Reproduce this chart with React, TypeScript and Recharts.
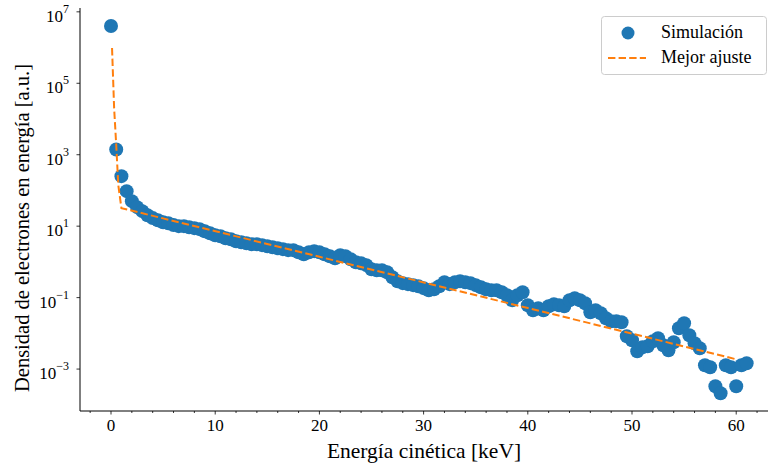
import React from "react"
import { ComposedChart, Scatter, XAxis, YAxis, Legend } from "recharts"

// energía cinética [keV] de cada punto simulado
const energia = [
  0, 0.5, 1, 1.5, 2, 2.5, 3, 3.5, 4, 4.5, 5, 5.5, 6, 6.5, 7, 7.5, 8, 8.5, 9, 9.5,
  10, 10.5, 11, 11.5, 12, 12.5, 13, 13.5, 14, 14.5, 15, 15.5, 16, 16.5, 17, 17.5, 18, 18.5, 19, 19.5,
  20, 20.5, 21, 21.5, 22, 22.5, 23, 23.5, 24, 24.5, 25, 25.5, 26, 26.5, 27, 27.5, 28, 28.5, 29, 29.5,
  30, 30.5, 31, 31.5, 32, 32.5, 33, 33.5, 34, 34.5, 35, 35.5, 36, 36.5, 37, 37.5, 38, 38.5, 39, 39.5,
  40, 40.5, 41, 41.5, 42, 42.5, 43, 43.5, 44, 44.5, 45, 45.5, 46, 46.5, 47, 47.5, 48, 48.5, 49, 49.5,
  50, 50.5, 51, 51.5, 52, 52.5, 53, 53.5, 54, 54.5, 55, 55.5, 56, 56.5, 57, 57.5, 58, 58.5, 59, 59.5,
  60, 60.5, 61,
]

const densidad = [
  4.0e6, 1.4e3, 251, 95.6, 50.2, 34.1, 26.3, 20.3, 16.8, 14.7, 12.9, 12.1, 10.7, 10.0, 10.0, 9.37, 8.79, 8.24, 7.24, 6.36,
  5.59, 5.24, 4.61, 4.32, 3.8, 3.56, 3.34, 3.13, 3.13, 2.94, 2.75, 2.58, 2.42, 2.27, 2.13, 2.13, 1.87, 1.64, 1.87, 2.0,
  1.87, 1.64, 1.44, 1.27, 1.54, 1.44, 1.19, 0.98, 0.92, 0.81, 0.625, 0.586, 0.586, 0.515, 0.373, 0.288, 0.254, 0.238, 0.223, 0.209,
  0.184, 0.161, 0.172, 0.209, 0.27, 0.238, 0.27, 0.288, 0.27, 0.254, 0.223, 0.196, 0.172, 0.161, 0.161, 0.142, 0.117, 0.0847, 0.117, 0.142,
  0.0614, 0.0445, 0.0506, 0.0445, 0.0575, 0.0655, 0.0614, 0.0575, 0.0847, 0.0964, 0.0847, 0.0698, 0.0391, 0.0445, 0.0366, 0.0265, 0.0218, 0.0218, 0.0205, 0.0083,
  0.0064, 0.00315, 0.00408, 0.00435, 0.006, 0.0073, 0.00464, 0.00336, 0.00564, 0.0139, 0.0192, 0.00885, 0.00528, 0.00383, 0.00128, 0.00112, 0.00033, 0.00021, 0.00128, 0.00112,
  0.00033, 0.00128, 0.00145,
]

// curva del mejor ajuste
const ajusteEnergia = [0.1, 0.3, 0.5, 0.7, 1, 20, 40, 60]
const ajusteDensidad = [9.7e5, 2.0e4, 1.9e3, 141, 32, 1.39, 0.0512, 0.00188]

const xTicks = [-2, 0, 2, 4, 6, 8, 10, 12, 14, 16, 18, 20, 22, 24, 26, 28, 30, 32, 34, 36, 38, 40, 42, 44, 46, 48, 50, 52, 54, 56, 58, 60, 62]
const xLabels = [0, 10, 20, 30, 40, 50, 60]
const yTicks = [1e-3, 1e-1, 1e1, 1e3, 1e5, 1e7]

const puntos = energia.map((x, i) => ({ x, y: densidad[i] }))
const ajuste = ajusteEnergia.map((x, i) => ({ x, y: ajusteDensidad[i] }))

const AZUL = "#1f77b4"
const NARANJA = "#ff7f0e"

const XTick = (props: any) => {
  const { x, y, payload } = props
  const major = xLabels.includes(payload.value)
  return (
    <g>
      <line x1={x} x2={x} y1={y} y2={y + (major ? 3.5 : 2)} stroke="#000" strokeWidth={0.8} />
      {major && (
        <text x={x} y={y + 20} textAnchor="middle" fontSize={17} fill="#000">
          {payload.value}
        </text>
      )}
    </g>
  )
}

const YTick = (props: any) => {
  const { x, y, payload } = props
  const exp = String(Math.round(Math.log10(payload.value))).replace("-", "\u2212")
  return (
    <g>
      <line x1={x - 3.5} x2={x} y1={y} y2={y} stroke="#000" strokeWidth={0.8} />
      <text x={x - 11} y={y + 10} textAnchor="end" fontSize={17} fill="#000">
        10
        <tspan dy={-9} fontSize={12}>
          {exp}
        </tspan>
      </text>
    </g>
  )
}

const LegendBox = () => (
  <svg width={166} height={59}>
    <rect x={0.5} y={0.5} width={165} height={58} rx={3} fill="rgba(255,255,255,0.8)" stroke="#cccccc" />
    <circle cx={27} cy={17} r={6.5} fill={AZUL} />
    <text x={60} y={22} fontSize={18} fill="#000">Simulación</text>
    <line x1={7} x2={45} y1={42} y2={42} stroke={NARANJA} strokeWidth={2} strokeDasharray="7.4 3.2" />
    <text x={60} y={47} fontSize={18} fill="#000">Mejor ajuste</text>
  </svg>
)

export default function App() {
  return (
    <div
      style={{
        position: "absolute",
        left: 0,
        top: 0,
        width: 769,
        height: 468,
        background: "#fff",
        fontFamily: "'Liberation Serif', serif",
      }}
    >
      <ComposedChart width={769} height={468} margin={{ top: 8, right: 1, bottom: 0, left: 0 }}>
        <XAxis
          dataKey="x"
          type="number"
          domain={[-2.975, 63.05]}
          ticks={xTicks}
          interval={0}
          allowDataOverflow
          height={57}
          tickSize={0}
          tickMargin={0}
          tickLine={false}
          tick={<XTick />}
          stroke="#000"
          label={{
            content: () => (
              <text x={424} y={458} textAnchor="middle" fontSize={21.5} fill="#000">
                Energía cinética [keV]
              </text>
            ),
          }}
        />
        <XAxis
          xAxisId="top"
          orientation="top"
          type="number"
          domain={[0, 1]}
          height={0}
          tick={false}
          tickLine={false}
          stroke="#000"
        />
        <YAxis
          dataKey="y"
          scale="log"
          domain={[6.7e-5, 1.28e7]}
          ticks={yTicks}
          interval={0}
          allowDataOverflow
          width={80}
          tickSize={0}
          tickMargin={0}
          tickLine={false}
          tick={<YTick />}
          stroke="#000"
          label={{
            content: () => (
              <text transform="translate(29,228) rotate(-90)" textAnchor="middle" fontSize={20.5} fill="#000">
                Densidad de electrones en energía [a.u.]
              </text>
            ),
          }}
        />
        <YAxis
          yAxisId="right"
          orientation="right"
          domain={[0, 1]}
          width={0}
          tick={false}
          tickLine={false}
          stroke="#000"
        />
        <Scatter
          name="Simulación"
          data={puntos}
          dataKey="y"
          fill={AZUL}
          isAnimationActive={false}
          shape={(p: any) => <circle cx={p.cx} cy={p.cy} r={7} fill={AZUL} />}
        />
        <Scatter
          name="Mejor ajuste"
          data={ajuste}
          dataKey="y"
          fill="none"
          line={{ stroke: NARANJA, strokeWidth: 2, strokeDasharray: "7.4 3.2", fill: "none" }}
          lineType="joint"
          isAnimationActive={false}
          shape={() => <g />}
        />
        <Legend
          layout="horizontal"
          verticalAlign="middle"
          align="center"
          wrapperStyle={{ top: 16, left: 601, width: 166, height: 59 }}
          content={() => <LegendBox />}
        />
      </ComposedChart>
    </div>
  )
}
